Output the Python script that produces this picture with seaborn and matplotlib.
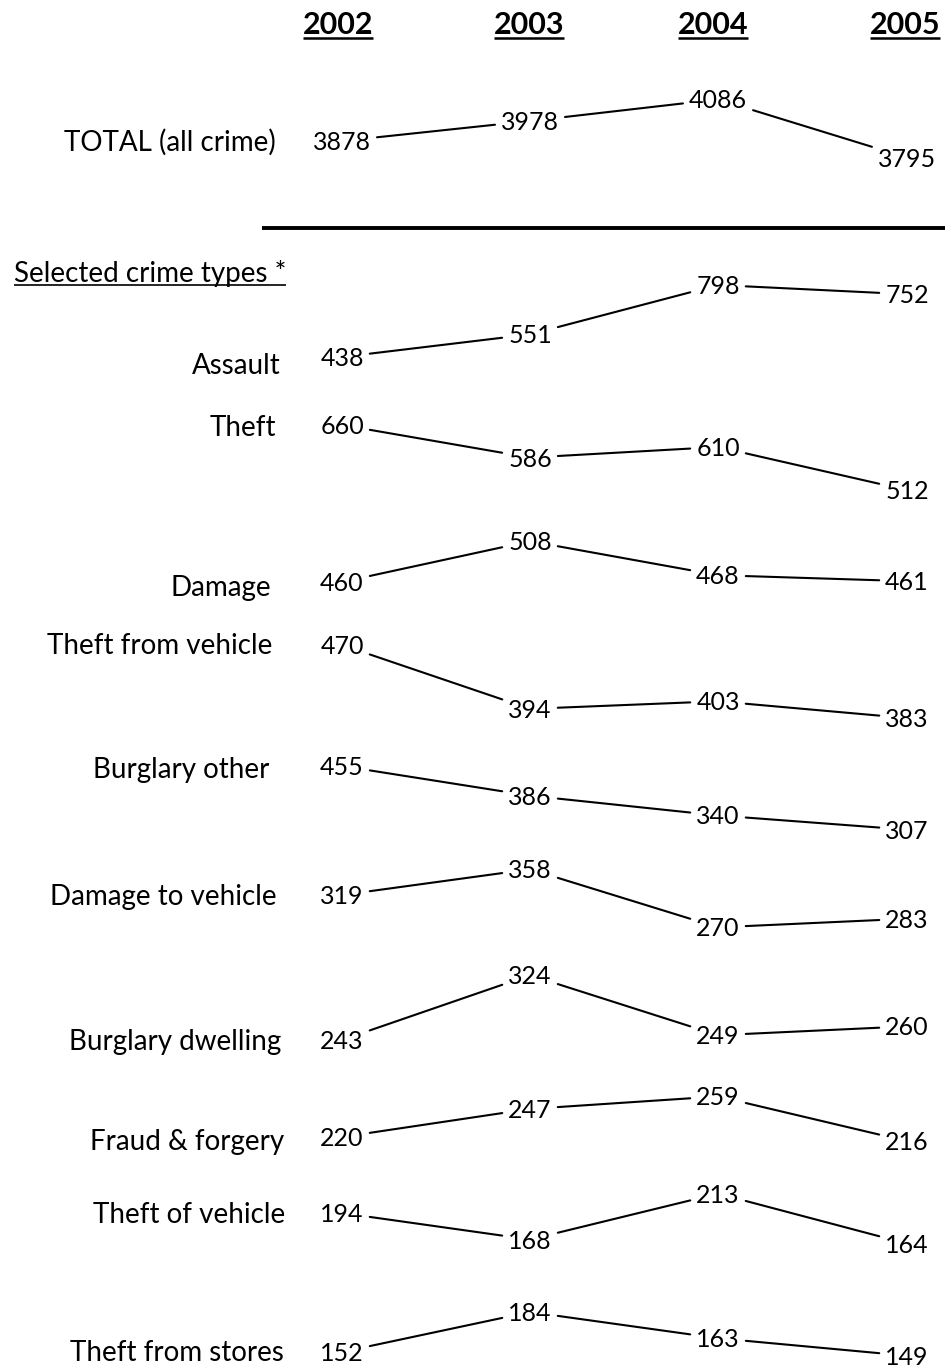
import pandas as pd
import seaborn as sns
import matplotlib.pyplot as plt

sns.set_theme(style='white')
plt.rcParams['font.family'] = ['Lato', 'DejaVu Sans']

# --- data ---
years = ['2002', '2003', '2004', '2005']
total = [3878, 3978, 4086, 3795]
crime_types = ['Assault', 'Theft', 'Damage', 'Theft from vehicle', 'Burglary other',
               'Damage to vehicle', 'Burglary dwelling', 'Fraud & forgery',
               'Theft of vehicle', 'Theft from stores']
assault = [438, 551, 798, 752]
theft = [660, 586, 610, 512]
damage = [460, 508, 468, 461]
theft_from_vehicle = [470, 394, 403, 383]
burglary_other = [455, 386, 340, 307]
damage_to_vehicle = [319, 358, 270, 283]
burglary_dwelling = [243, 324, 249, 260]
fraud_forgery = [220, 247, 259, 216]
theft_of_vehicle = [194, 168, 213, 164]
theft_from_stores = [152, 184, 163, 149]

# --- layout (the canvas is laid out in pixels, y going down) ---
W, H = 951, 1367
col_x = [342, 530, 718, 907]
header_x = [338, 529, 713, 905]
# every row has its own baseline and its own stretch (px per crime)
row_base = [141, 357, 425, 582, 645, 766, 895, 1040, 1137, 1213, 1352]
row_scale = [0.2, 0.2, 0.44, 0.85, 0.84, 0.43, 0.66, 0.80, 1.04, 1.02, 1.25]
label_y = [141, 364, 426, 586, 644, 768, 895, 1040, 1140, 1213, 1351]
label_right = [276, 281, 276, 271, 272, 269, 277, 281, 284, 285, 284]

rows = ['TOTAL (all crime)'] + crime_types
values = [total, assault, theft, damage, theft_from_vehicle, burglary_other,
          damage_to_vehicle, burglary_dwelling, fraud_forgery, theft_of_vehicle,
          theft_from_stores]

recs = []
for r, (name, vals) in enumerate(zip(rows, values)):
    for j, v in enumerate(vals):
        recs.append({'row': r, 'crime': name, 'year': years[j], 'value': v,
                     'x': col_x[j], 'y': row_base[r] - row_scale[r] * (v - vals[0])})
df = pd.DataFrame(recs)

fig = plt.figure(figsize=(W / 100, H / 100), dpi=100)
ax = fig.add_axes([0, 0, 1, 1])
ax.set_xlim(0, W)
ax.set_ylim(H, 0)
ax.axis('off')

# numbers
txt = {}
for i, rec in df.iterrows():
    txt[i] = ax.text(rec['x'], rec['y'] + 9, str(rec['value']), ha='center',
                     va='baseline', fontsize=18, color='black')

# row labels
for r, name in enumerate(rows):
    ax.text(label_right[r], label_y[r] + 10, name, ha='right', va='baseline',
            fontsize=20, color='black')

# year headers, underlined
fig.canvas.draw()
rend = fig.canvas.get_renderer()
for j, yr in enumerate(years):
    t = ax.text(header_x[j], 34, yr, ha='center', va='baseline', fontsize=22,
                fontweight='bold', color='black')
    bb = t.get_window_extent(rend)
    ax.plot([bb.x0, bb.x1], [37.5, 37.5], color='black', lw=1.8,
            solid_capstyle='butt')

sel = ax.text(14, 282, 'Selected crime types *', ha='left', va='baseline',
              fontsize=20, color='black')
bb = sel.get_window_extent(rend)
ax.plot([bb.x0, bb.x1], [285, 285], color='black', lw=1.2, solid_capstyle='butt')

ax.plot([262, 945], [228, 228], color='black', lw=2.8, solid_capstyle='butt')

# connecting segments: centre to centre, clipped short of each number
gap = 6
segs = []
k = 0
for r in range(len(rows)):
    sub = df[df['row'] == r]
    idx = list(sub.index)
    for a, b in zip(idx[:-1], idx[1:]):
        xa, ya = df.loc[a, 'x'], df.loc[a, 'y']
        xb, yb = df.loc[b, 'x'], df.loc[b, 'y']
        ra = txt[a].get_window_extent(rend).width / 2 + gap
        rb = txt[b].get_window_extent(rend).width / 2 + gap
        x0, x1 = xa + ra, xb - rb
        y0 = ya + (yb - ya) * (x0 - xa) / (xb - xa)
        y1 = ya + (yb - ya) * (x1 - xa) / (xb - xa)
        segs.append({'seg': k, 'x': x0, 'y': y0})
        segs.append({'seg': k, 'x': x1, 'y': y1})
        k += 1
seg = pd.DataFrame(segs)

sns.lineplot(data=seg, x='x', y='y', units='seg', estimator=None, sort=False,
             color='black', linewidth=1.5, legend=False, ax=ax)
ax.set_xlim(0, W)
ax.set_ylim(H, 0)
ax.axis('off')

fig.savefig('out.png', dpi=100, facecolor='white')
